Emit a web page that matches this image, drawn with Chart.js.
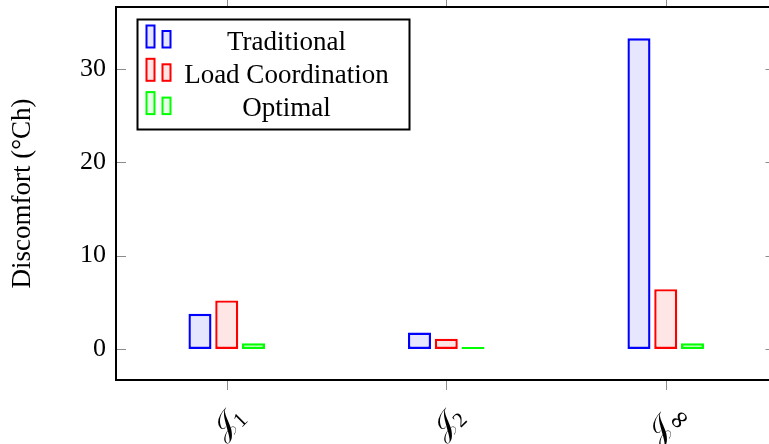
<!DOCTYPE html>
<html>
<head>
<meta charset="utf-8">
<script src="https://cdn.jsdelivr.net/npm/chart.js@4.4.0/dist/chart.umd.min.js"></script>
<style>
  html, body { margin: 0; padding: 0; background: #fff; overflow: hidden; }
  canvas { display: block; }
</style>
</head>
<body>
<canvas id="myChart" width="783" height="444"></canvas>
<script>
// data
const categories = ['𝒥1', '𝒥2', '𝒥∞']
const seriesNames = ['Traditional', 'Load Coordination', 'Optimal']
const traditional = [3.77, 1.75, 33.27]
const loadCoordination = [5.2, 1.1, 6.4]
const optimal = [0.6, 0.2, 0.6]
const yTicks = [0, 10, 20, 30]

const FONT = '"Liberation Serif", "Times New Roman", serif'
const SCRIPT_FONT = '"DejaVu Serif", "DejaVu Sans", "Liberation Serif", serif'

function bars (label, values, line, fill) {
  return {
    label: label,
    data: values,
    backgroundColor: fill,
    borderColor: line,
    borderWidth: 2.4,
    borderSkipped: false,
    categoryPercentage: 0.366,
    barPercentage: 0.86
  }
}

// frame, little ticks, rotated x labels and the boxed legend
const decorations = {
  id: 'decorations',
  afterDraw (chart) {
    const { ctx, chartArea: a, scales: { x, y } } = chart
    const left = a.left - 1
    ctx.save()

    ctx.strokeStyle = '#8c8c8c'
    ctx.lineWidth = 1
    ctx.beginPath()
    yTicks.forEach(v => {
      const py = Math.round(y.getPixelForValue(v)) + 0.5
      ctx.moveTo(left, py); ctx.lineTo(left + 10, py)
      ctx.moveTo(a.right - 10, py); ctx.lineTo(a.right, py)
    })
    categories.forEach((c, i) => {
      const px = Math.round(x.getPixelForValue(i)) + 0.5
      ctx.moveTo(px, a.bottom); ctx.lineTo(px, a.bottom + 10)
      ctx.moveTo(px, a.top); ctx.lineTo(px, a.top - 10)
    })
    ctx.stroke()

    ctx.strokeStyle = '#000'
    ctx.lineWidth = 2
    ctx.strokeRect(left, a.top, a.right - left, a.bottom - a.top)

    // x tick labels, turned 45 degrees about their centre
    ctx.fillStyle = '#000'
    ctx.textBaseline = 'middle'
    ctx.textAlign = 'left'
    categories.forEach((c, i) => {
      const [main, ...rest] = Array.from(c)
      const sub = rest.join('')
      const subFont = sub === '∞' ? '26px "DejaVu Serif", serif' : '21px ' + FONT
      ctx.font = '30px ' + SCRIPT_FONT
      const w1 = ctx.measureText(main).width
      ctx.font = subFont
      const w2 = ctx.measureText(sub).width
      const W = w1 + w2
      ctx.save()
      ctx.translate(x.getPixelForValue(i) + 2, a.bottom + 43)
      ctx.rotate(-Math.PI / 4)
      ctx.font = '30px ' + SCRIPT_FONT
      ctx.fillText(main, -W / 2, 0)
      ctx.font = subFont
      ctx.fillText(sub, -W / 2 + w1, 7)
      ctx.restore()
    })

    // legend
    ctx.lineWidth = 2
    ctx.strokeStyle = '#000'
    ctx.fillStyle = '#fff'
    ctx.fillRect(137.5, 19.5, 272, 110)
    ctx.strokeRect(137.5, 19.5, 272, 110)
    ctx.font = '27px ' + FONT
    ctx.textAlign = 'center'
    ctx.textBaseline = 'alphabetic'
    chart.data.datasets.forEach((ds, i) => {
      const yb = 47.5 + i * 33.3
      ctx.fillStyle = ds.backgroundColor
      ctx.strokeStyle = ds.borderColor
      ctx.fillRect(146.5, yb - 22, 8, 22)
      ctx.strokeRect(146.5, yb - 22, 8, 22)
      ctx.fillRect(162.5, yb - 16.5, 8, 16.5)
      ctx.strokeRect(162.5, yb - 16.5, 8, 16.5)
      ctx.fillStyle = '#000'
      ctx.fillText(ds.label, 286.5, yb + 2)
    })

    ctx.restore()
  }
}

const ctx = document.querySelector('#myChart')
const myChart = new Chart(ctx, {
  type: 'bar',
  data: {
    labels: categories,
    datasets: [
      bars(seriesNames[0], traditional, '#0000ff', '#e6e6ff'),
      bars(seriesNames[1], loadCoordination, '#ff0000', '#ffe6e6'),
      bars(seriesNames[2], optimal, '#00ff00', '#e6ffe6')
    ]
  },
  options: {
    responsive: false,
    animation: false,
    layout: { padding: { top: 7, right: 7.5, left: 0, bottom: 0 } },
    plugins: {
      legend: { display: false },
      tooltip: { enabled: false }
    },
    scales: {
      x: {
        type: 'category',
        offset: true,
        grid: { display: false },
        border: { display: false },
        ticks: { display: false },
        afterFit: s => { s.height = 64 }
      },
      y: {
        min: -3.33,
        max: 36.63,
        afterBuildTicks: s => { s.ticks = yTicks.map(v => ({ value: v })) },
        grid: { display: false, drawTicks: false },
        border: { display: false },
        ticks: {
          padding: 11,
          color: '#000',
          font: { family: FONT, size: 26 }
        },
        title: {
          display: true,
          text: 'Discomfort (°Ch)',
          color: '#000',
          font: { family: FONT, size: 27 },
          padding: { top: 7, bottom: 0 }
        },
        afterFit: s => {
          s.width = 117
          s.paddingTop = 0
          s.paddingBottom = 0
        }
      }
    }
  },
  plugins: [decorations]
})
</script>
</body>
</html>
